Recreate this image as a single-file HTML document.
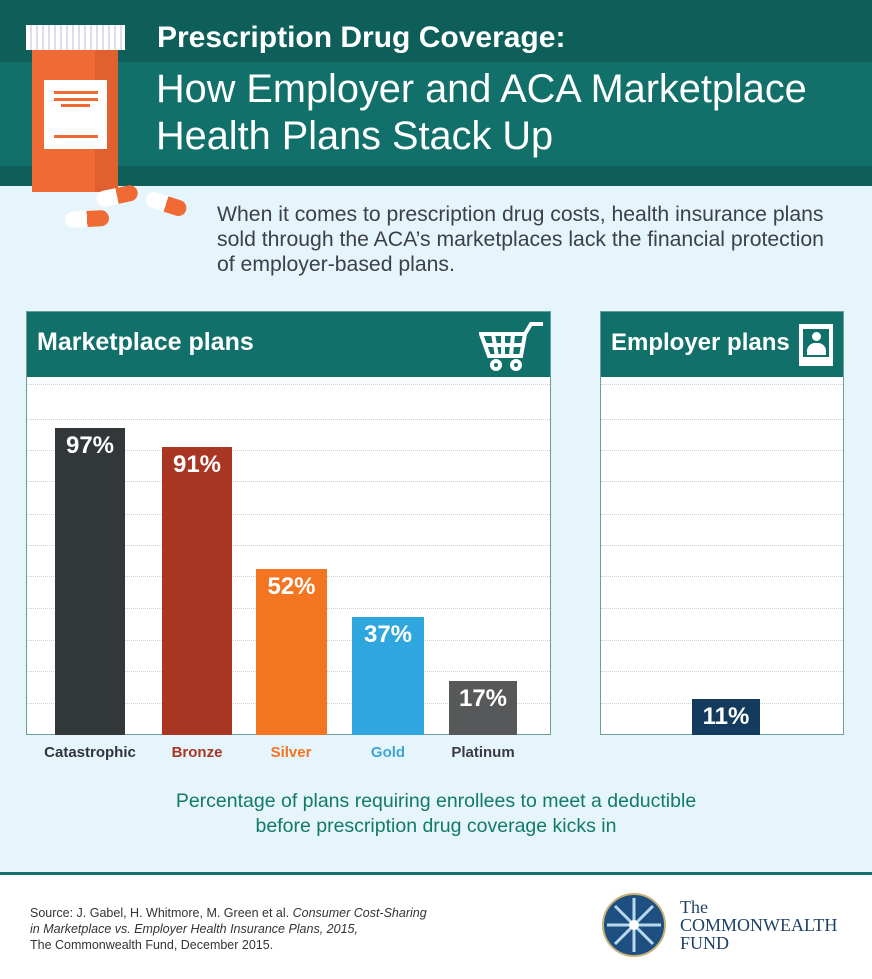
<!DOCTYPE html>
<html><head><meta charset="utf-8"><style>
*{margin:0;padding:0;box-sizing:border-box}
body{width:872px;height:979px;position:relative;overflow:hidden;background:#e6f4fb;font-family:"Liberation Sans",sans-serif}
.a{position:absolute}
.grid{position:absolute;left:0;right:0;height:0;border-top:1px dotted #c9d3d8}
.val{position:absolute;color:#fff;font-weight:bold;font-size:24px;text-align:center;width:100%;top:4px}
.lab{position:absolute;top:744px;font-weight:bold;font-size:15px;text-align:center}
</style></head><body>
<div class="a" style="left:0;top:0;width:872px;height:62px;background:#0e5f5a"></div>
<div class="a" style="left:0;top:62px;width:872px;height:104px;background:#12706a"></div>
<div class="a" style="left:0;top:166px;width:872px;height:20px;background:#0e5f5a"></div>
<div class="a" style="left:157px;top:21px;color:#fff;font-weight:bold;font-size:30px">Prescription Drug Coverage:</div>
<div class="a" style="left:156px;top:66px;color:#fff;font-size:39.7px;line-height:47px;font-weight:300">How Employer and ACA Marketplace<br>Health Plans Stack Up</div>
<!-- bottle -->
<div class="a" style="left:26px;top:25px;width:99px;height:25px;background:repeating-linear-gradient(90deg,#fff 0 4px,#dde 4px 6px)"></div>
<div class="a" style="left:32px;top:50px;width:86px;height:142px;background:#ef6a35"></div>
<div class="a" style="left:95px;top:50px;width:23px;height:142px;background:#e0602f"></div>
<div class="a" style="left:44px;top:80px;width:63px;height:69px;background:#fff"></div>
<div class="a" style="left:54px;top:91px;width:44px;height:3px;background:#ef6a35"></div>
<div class="a" style="left:54px;top:98px;width:44px;height:3px;background:#ef6a35"></div>
<div class="a" style="left:61px;top:104px;width:29px;height:3px;background:#ef6a35"></div>
<div class="a" style="left:54px;top:135px;width:44px;height:3px;background:#ef6a35"></div>
<div class="a" style="left:96px;top:188px;width:42px;height:16px;border-radius:8px;background:linear-gradient(90deg,#fff 50%,#ef6a35 50%);transform:rotate(-12deg)"></div>
<div class="a" style="left:145px;top:196px;width:42px;height:16px;border-radius:8px;background:linear-gradient(90deg,#fff 50%,#ef6a35 50%);transform:rotate(18deg)"></div>
<div class="a" style="left:65px;top:211px;width:44px;height:16px;border-radius:8px;background:linear-gradient(90deg,#fff 50%,#ef6a35 50%);transform:rotate(-3deg)"></div>
<div class="a" style="left:217px;top:202px;color:#3b4147;font-size:21.2px;line-height:25px">When it comes to prescription drug costs, health insurance plans<br>sold through the ACA’s marketplaces lack the financial protection<br>of employer-based plans.</div>
<!-- marketplace panel -->
<div class="a" style="left:26px;top:311px;width:525px;height:424px;background:#fff;border:1px solid #6a9e9a">
  <div class="a" style="left:0;top:0;right:0;height:65px;background:#12706a"></div>
  <div class="a" style="left:10px;top:16px;color:#fff;font-weight:bold;font-size:25px">Marketplace plans</div>
  <svg class="a" style="left:452px;top:8px" width="66" height="52" viewBox="0 0 66 52" fill="none" stroke="#fff" stroke-width="4"><path d="M2 14h44l-4 22H10z M14 14l4 22 M24 14v22 M34 14l-2 22 M6 25h40 M46 14l6-10h12"/><circle cx="17" cy="45" r="4"/><circle cx="37" cy="45" r="4"/></svg>
  <div class="a" style="left:0;right:0;top:65px;bottom:0">
   <div class="grid" style="top:7px"></div><div class="grid" style="top:42px"></div><div class="grid" style="top:73px"></div><div class="grid" style="top:104px"></div><div class="grid" style="top:137px"></div><div class="grid" style="top:168px"></div><div class="grid" style="top:199px"></div><div class="grid" style="top:231px"></div><div class="grid" style="top:263px"></div><div class="grid" style="top:294px"></div><div class="grid" style="top:326px"></div>
  </div>
  <div class="a" style="left:28px;top:116px;width:70px;height:307px;background:#32373a"><div class="val">97%</div></div>
  <div class="a" style="left:135px;top:135px;width:70px;height:288px;background:#a83623"><div class="val">91%</div></div>
  <div class="a" style="left:229px;top:257px;width:71px;height:166px;background:#f37421"><div class="val">52%</div></div>
  <div class="a" style="left:325px;top:305px;width:72px;height:118px;background:#2fa6de"><div class="val">37%</div></div>
  <div class="a" style="left:422px;top:369px;width:68px;height:54px;background:#575859"><div class="val">17%</div></div>
</div>
<div class="lab" style="left:30px;width:120px;color:#2f3539">Catastrophic</div>
<div class="lab" style="left:147px;width:100px;color:#a83623">Bronze</div>
<div class="lab" style="left:241px;width:100px;color:#f37421">Silver</div>
<div class="lab" style="left:338px;width:100px;color:#3ea6d6">Gold</div>
<div class="lab" style="left:433px;width:100px;color:#3a3d40">Platinum</div>
<!-- employer panel -->
<div class="a" style="left:600px;top:311px;width:244px;height:424px;background:#fff;border:1px solid #6a9e9a">
  <div class="a" style="left:0;top:0;right:0;height:65px;background:#12706a"></div>
  <div class="a" style="left:10px;top:17px;color:#fff;font-weight:bold;font-size:24px">Employer plans</div>
  <div class="a" style="left:198px;top:12px;width:34px;height:42px;background:#fff"></div>
  <div class="a" style="left:202px;top:17px;width:26px;height:28px;background:#12706a"></div>
  <div class="a" style="left:211px;top:20px;width:9px;height:9px;border-radius:50%;background:#fff"></div>
  <div class="a" style="left:206px;top:31px;width:19px;height:12px;border-radius:8px 8px 0 0;background:#fff"></div>
  <div class="a" style="left:0;right:0;top:65px;bottom:0">
   <div class="grid" style="top:7px"></div><div class="grid" style="top:42px"></div><div class="grid" style="top:73px"></div><div class="grid" style="top:104px"></div><div class="grid" style="top:137px"></div><div class="grid" style="top:168px"></div><div class="grid" style="top:199px"></div><div class="grid" style="top:231px"></div><div class="grid" style="top:263px"></div><div class="grid" style="top:294px"></div><div class="grid" style="top:326px"></div>
  </div>
  <div class="a" style="left:91px;top:387px;width:68px;height:36px;background:#143b5e"><div class="val">11%</div></div>
</div>
<div class="a" style="left:0;width:872px;top:789px;text-align:center;color:#127a66;font-size:19.5px;line-height:25px">Percentage of plans requiring enrollees to meet a deductible<br>before prescription drug coverage kicks in</div>
<!-- footer -->
<div class="a" style="left:0;top:872px;width:872px;height:107px;background:#fff;border-top:3px solid #13706a"></div>
<div class="a" style="left:30px;top:905px;color:#333;font-size:12.5px;line-height:16px">Source: J. Gabel, H. Whitmore, M. Green et al. <i>Consumer Cost-Sharing<br>in Marketplace vs. Employer Health Insurance Plans, 2015,</i><br>The Commonwealth Fund, December 2015.</div>
<svg class="a" style="left:601px;top:892px" width="66" height="66" viewBox="0 0 66 66"><circle cx="33" cy="33" r="31" fill="#1d4f80" stroke="#c8b27a" stroke-width="2"/><g stroke="#b9d8ee" stroke-width="3"><line x1="33" y1="6" x2="33" y2="60"/><line x1="6" y1="33" x2="60" y2="33"/><line x1="14" y1="14" x2="52" y2="52"/><line x1="52" y1="14" x2="14" y2="52"/></g><circle cx="33" cy="33" r="5" fill="#fff"/></svg>
<div class="a" style="left:680px;top:898px;color:#1d4068;font-family:'Liberation Serif',serif;font-size:18px;line-height:18px">The<br>COMMONWEALTH<br>FUND</div>
</body></html>
